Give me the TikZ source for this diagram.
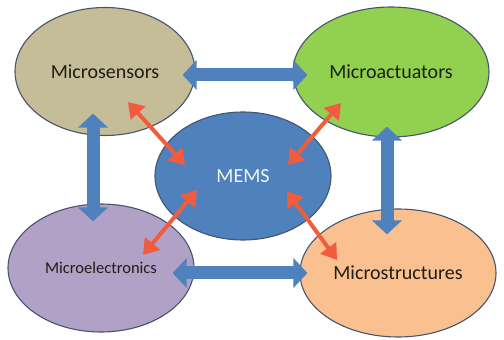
\documentclass[tikz,border=0pt]{standalone}
\usepackage{fontspec}
\setmainfont{Carlito}
\usepackage{tikz}
\usetikzlibrary{shapes.geometric,arrows.meta}
\definecolor{memsedge}{RGB}{70,85,110}
\definecolor{memsblue}{RGB}{79,129,189}
\definecolor{memsred}{RGB}{242,92,62}
\definecolor{sensfill}{RGB}{196,189,151}
\definecolor{actfill}{RGB}{146,208,80}
\definecolor{elecfill}{RGB}{178,161,199}
\definecolor{structfill}{RGB}{250,192,143}
\definecolor{memstext}{RGB}{30,30,20}

\begin{document}
\begin{tikzpicture}[x=1pt, y=1pt,
  blob/.style={ellipse, draw=memsedge, line width=1.1pt, inner sep=0pt,
    text=memstext, font=\fontsize{20}{23}\selectfont},
  linkarrow/.style={line width=13pt, memsblue,
    {Triangle[width=29pt,length=14pt]}-{Triangle[width=29pt,length=14pt]}},
  tiearrow/.style={line width=4pt, memsred,
    {Triangle[width=19pt,length=15pt]}-{Triangle[width=19pt,length=15pt]}}]
  \useasboundingbox (0,0) rectangle (504,340);

  % the five fields
  \node[blob, fill=sensfill, minimum width=180pt, minimum height=128pt] (sens) at (105,268.5) {Microsensors};
  \node[blob, fill=actfill, minimum width=196pt, minimum height=130pt] (act) at (391,268) {Microactuators};
  \node[blob, fill=memsblue, text=white!92!memsblue, minimum width=176pt, minimum height=128pt] (mems) at (243,164) {MEMS};
  \node[blob, fill=elecfill, minimum width=186pt, minimum height=128pt, font=\fontsize{16.5}{19}\selectfont] (elec) at (101,72) {Microelectronics};
  \node[blob, fill=structfill, minimum width=196pt, minimum height=128pt] (struct) at (398,67) {Microstructures};

  % links round the outside
  \draw[linkarrow] ([shift={(-13,-3.5)}]sens.east) -- ([shift={(15,-3)}]act.west);
  \draw[linkarrow] ([shift={(-22,-5)}]elec.east) -- ([shift={(8,0)}]struct.west);
  \draw[linkarrow] ([shift={(-12,22.5)}]sens.south) -- ([shift={(-8,-18)}]elec.north);
  \draw[linkarrow] ([shift={(-4,11)}]act.south) -- ([shift={(-11,-26)}]struct.north);

  % links to MEMS
  \draw[tiearrow] ([shift={(23,-30.5)}]sens.center) -- ([shift={(-58,11)}]mems.center);
  \draw[tiearrow] ([shift={(-50,-31)}]act.center) -- ([shift={(45,11)}]mems.center);
  \draw[tiearrow] ([shift={(42,13)}]elec.center) -- ([shift={(-46,-14)}]mems.center);
  \draw[tiearrow] ([shift={(-61,13)}]struct.center) -- ([shift={(44,-15)}]mems.center);
\end{tikzpicture}
\end{document}
